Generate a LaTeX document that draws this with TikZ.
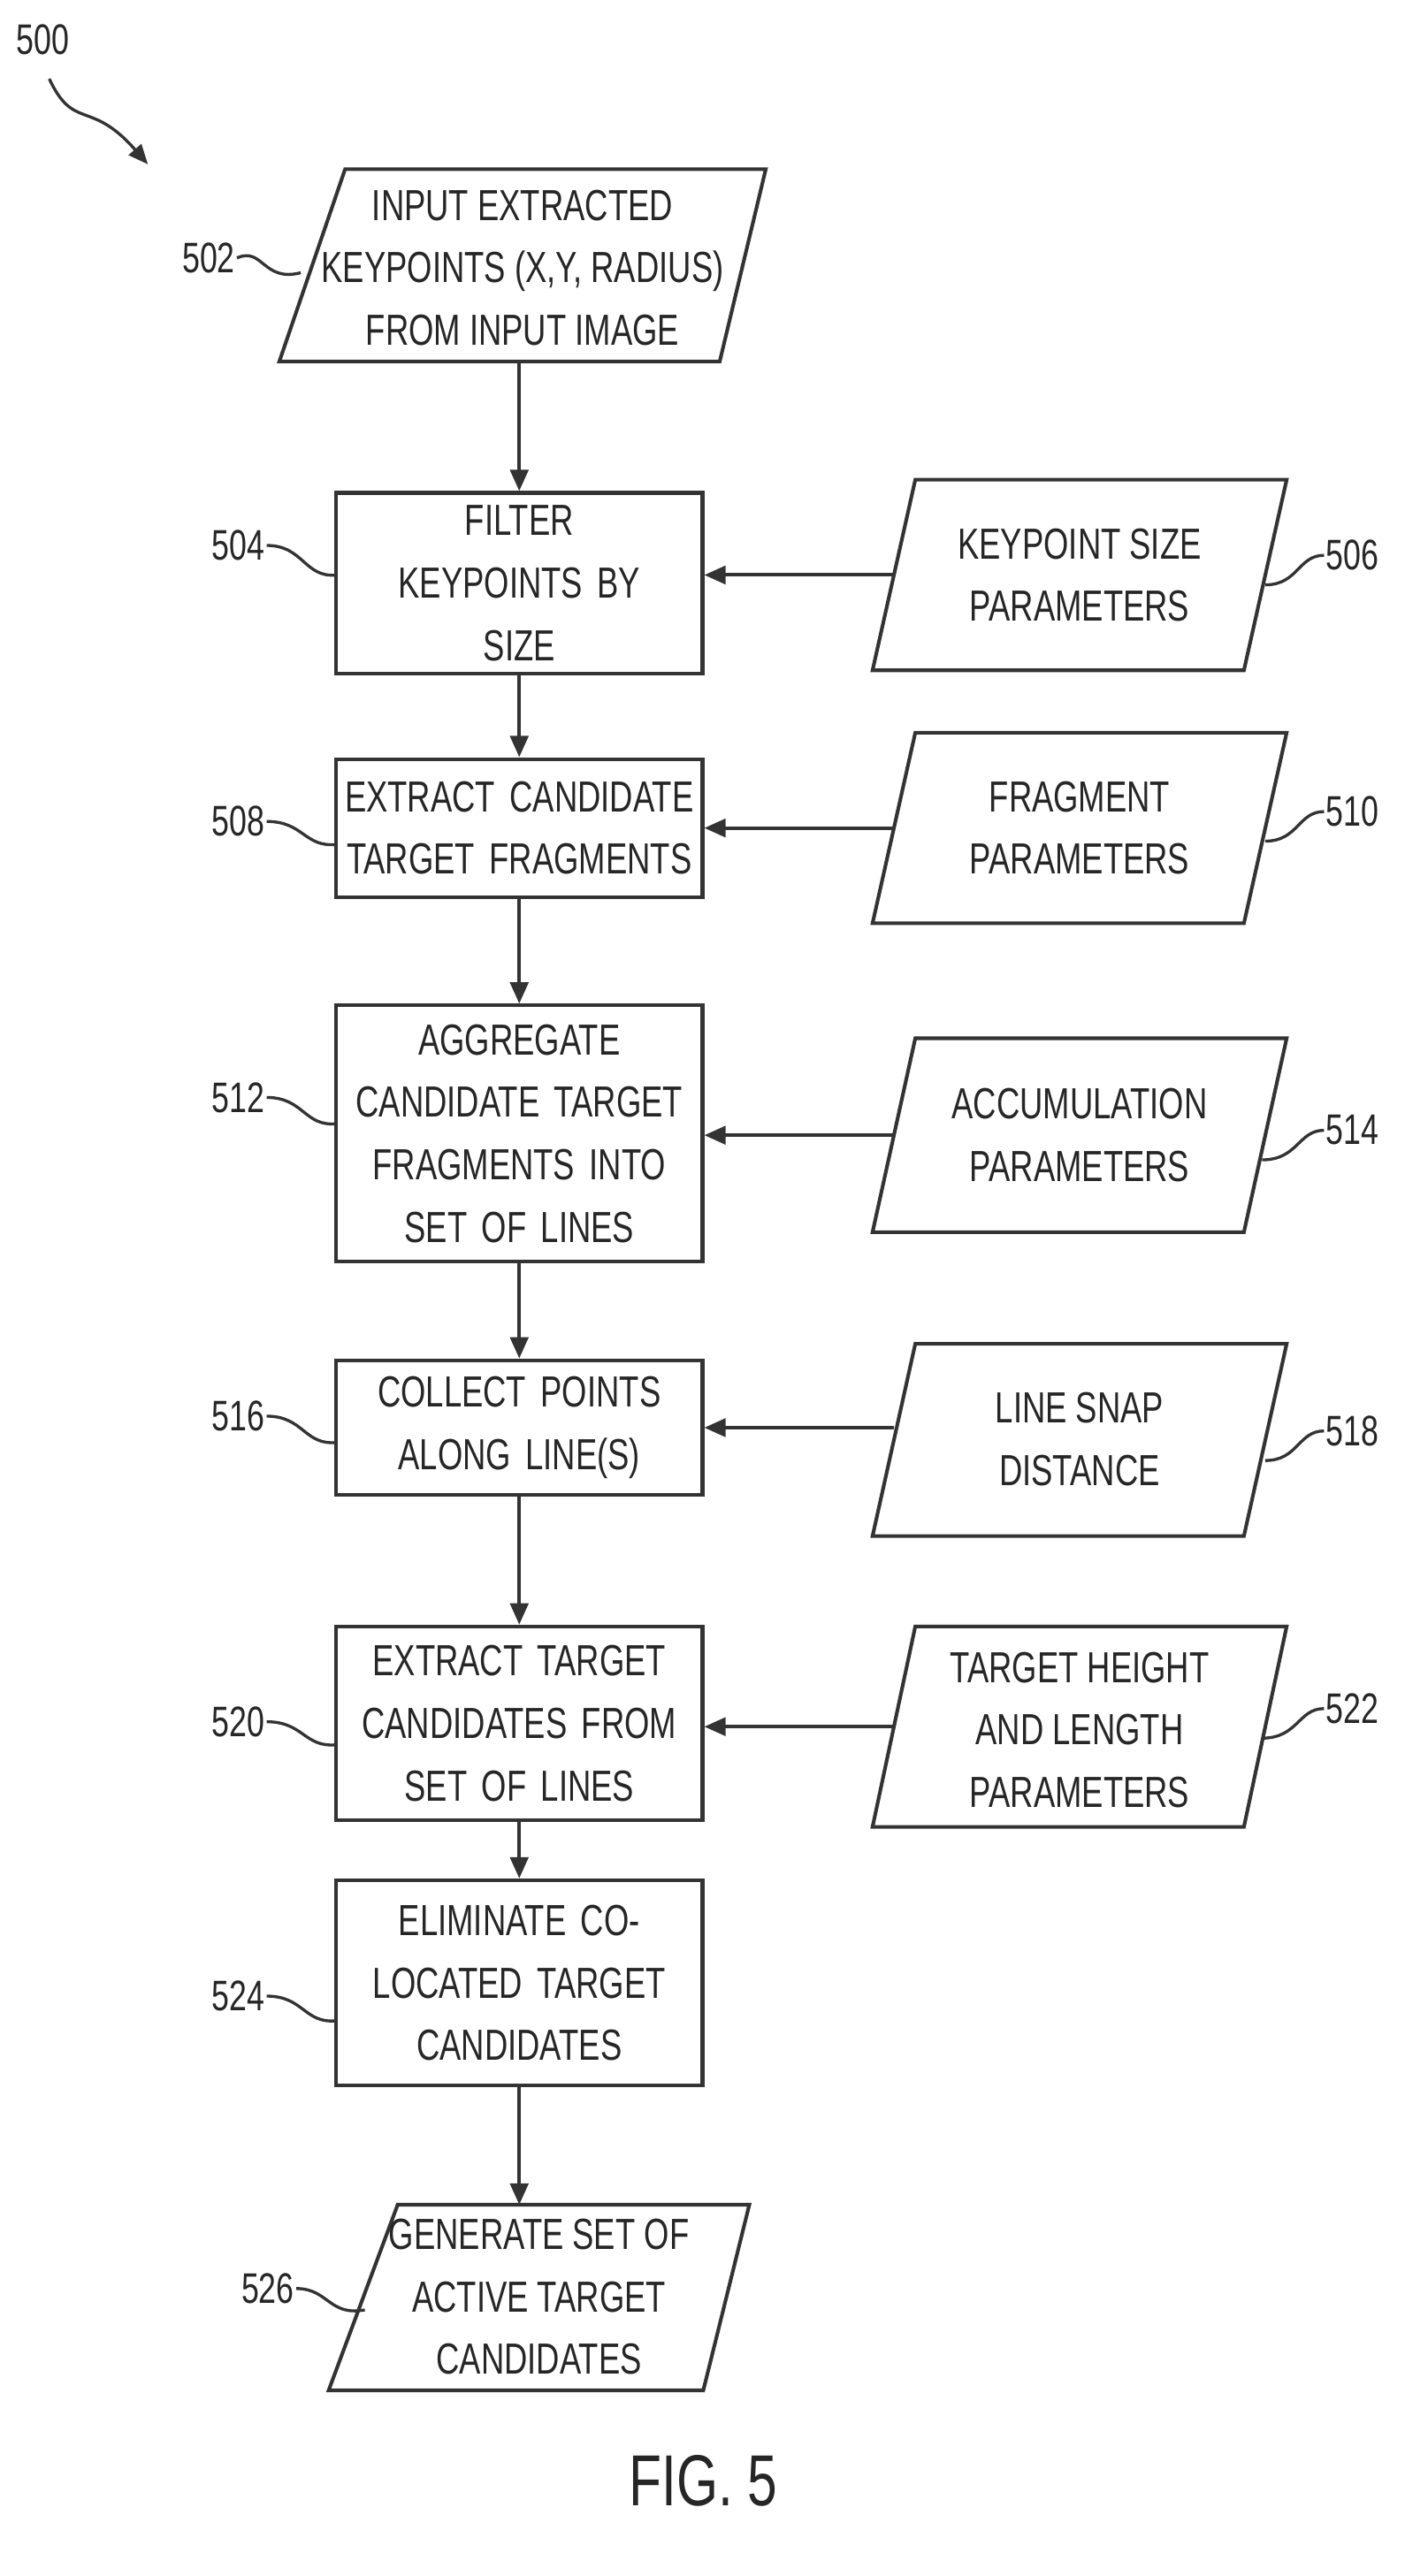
\documentclass[tikz,border=0pt]{standalone}
\usepackage{fontspec}
\setmainfont{Liberation Sans}[FakeStretch=0.74]
\usetikzlibrary{arrows.meta}
\begin{document}
\begin{tikzpicture}[x=1pt,y=-1pt,
  ln/.style={draw=black!80,line width=2.2pt},
  arr/.style={ln,-{Triangle[length=13pt,width=11pt]}},
  txt/.style={align=center,font=\fontsize{26.5}{38}\selectfont,text=black!85,inner sep=0},
  box/.style={ln,txt,minimum width=223pt,text width=215pt},
  lab/.style={font=\fontsize{26}{30}\selectfont,text=black!85,inner sep=1pt},
  lead/.style={ln,line width=1.8pt}]
\useasboundingbox (0,0) rectangle (855,1568);
\def\para#1#2#3#4#5#6{\draw[ln] (#1,#5)--(#2,#5)--(#4,#6)--(#3,#6)--cycle;}
% 502
\para{210}{466}{170}{438}{103}{220}
\node[txt] (n502) at (318,163) {INPUT EXTRACTED\\KEYPOINTS (X,Y, RADIUS)\\FROM INPUT IMAGE};
\coordinate (b502) at (316,220);
% rects
\node[box,minimum height=110pt] (n504) at (316,355) {FILTER\\KEYPOINTS BY\\SIZE};
\node[box,minimum height=84pt] (n508) at (316,504) {EXTRACT CANDIDATE\\TARGET FRAGMENTS};
\node[box,minimum height=156pt] (n512) at (316,690) {AGGREGATE\\CANDIDATE TARGET\\FRAGMENTS INTO\\SET OF LINES};
\node[box,minimum height=82pt] (n516) at (316,869) {COLLECT POINTS\\ALONG LINE(S)};
\node[box,minimum height=118pt] (n520) at (316,1049) {EXTRACT TARGET\\CANDIDATES FROM\\SET OF LINES};
\node[box,minimum height=125pt] (n524) at (316,1207) {ELIMINATE CO-\\LOCATED TARGET\\CANDIDATES};
% right parallelograms
\para{557}{783}{531}{757}{292}{408}
\node[txt] (n506) at (657,350) {KEYPOINT SIZE\\PARAMETERS};
\coordinate (l506) at (544,350);
\para{557}{783}{531}{757}{446}{562}
\node[txt] (n510) at (657,504) {FRAGMENT\\PARAMETERS};
\coordinate (l510) at (544,504);
\para{557}{783}{531}{757}{632}{750}
\node[txt] (n514) at (657,691) {ACCUMULATION\\PARAMETERS};
\coordinate (l514) at (544,691);
\para{557}{783}{531}{757}{818}{935}
\node[txt] (n518) at (657,876) {LINE SNAP\\DISTANCE};
\coordinate (l518) at (544,869);
\para{557}{783}{531}{757}{990}{1112}
\node[txt] (n522) at (657,1053) {TARGET HEIGHT\\AND LENGTH\\PARAMETERS};
\coordinate (l522) at (544,1051);
% 526
\para{242}{456}{200}{428}{1342}{1455}
\node[txt] (n526) at (328,1398) {GENERATE SET OF\\ACTIVE TARGET\\CANDIDATES};
\coordinate (t526) at (316,1342);
% arrows
\draw[arr] (b502) -- (n504.north);
\draw[arr] (n504) -- (n508);
\draw[arr] (n508) -- (n512);
\draw[arr] (n512) -- (n516);
\draw[arr] (n516) -- (n520);
\draw[arr] (n520) -- (n524);
\draw[arr] (n524.south) -- (t526);
\draw[arr] (l506) -- (l506 -| n504.east);
\draw[arr] (l510) -- (l510 -| n508.east);
\draw[arr] (l514) -- (l514 -| n512.east);
\draw[arr] (l518) -- (l518 -| n516.east);
\draw[arr] (l522) -- (l522 -| n520.east);
% labels
\node[lab] (L500) at (26,24) {500};
\coordinate (a500) at (90,100);
\draw[ln,line width=1.8pt,-{Triangle[length=12pt,width=10pt]}] (30,48) .. controls (45,80) and (55,60) .. (a500);
\node[lab] (L502) at (127,157) {502};
\draw[lead] (L502.east) .. controls (160,150) and (160,172) .. (183,166);
\node[lab] (L504) at (145,332) {504};
\draw[lead] (L504.east) .. controls (185,332) and (185,352) .. (205,350);
\node[lab] (L508) at (145,500) {508};
\draw[lead] (L508.east) .. controls (185,500) and (185,516) .. (205,514);
\node[lab] (L512) at (145,668) {512};
\draw[lead] (L512.east) .. controls (185,668) and (185,686) .. (205,684);
\node[lab] (L516) at (145,862) {516};
\draw[lead] (L516.east) .. controls (185,862) and (185,880) .. (205,878);
\node[lab] (L520) at (145,1048) {520};
\draw[lead] (L520.east) .. controls (185,1048) and (185,1064) .. (205,1062);
\node[lab] (L524) at (145,1215) {524};
\draw[lead] (L524.east) .. controls (185,1215) and (185,1232) .. (205,1230);
\node[lab] (L526) at (163,1393) {526};
\draw[lead] (L526.east) .. controls (200,1393) and (200,1410) .. (222,1406);
\node[lab] (L506) at (823,338) {506};
\draw[lead] (L506.west) .. controls (790,338) and (790,356) .. (770,356);
\node[lab] (L510) at (823,494) {510};
\draw[lead] (L510.west) .. controls (790,494) and (790,512) .. (770,512);
\node[lab] (L514) at (823,688) {514};
\draw[lead] (L514.west) .. controls (790,688) and (790,706) .. (768,706);
\node[lab] (L518) at (823,871) {518};
\draw[lead] (L518.west) .. controls (790,871) and (790,889) .. (770,889);
\node[lab] (L522) at (823,1040) {522};
\draw[lead] (L522.west) .. controls (790,1040) and (790,1058) .. (768,1058);
\node[font=\fontsize{44}{50}\selectfont,text=black!85,inner sep=0] (fig) at (428,1510) {FIG. 5};
\end{tikzpicture}
\end{document}
